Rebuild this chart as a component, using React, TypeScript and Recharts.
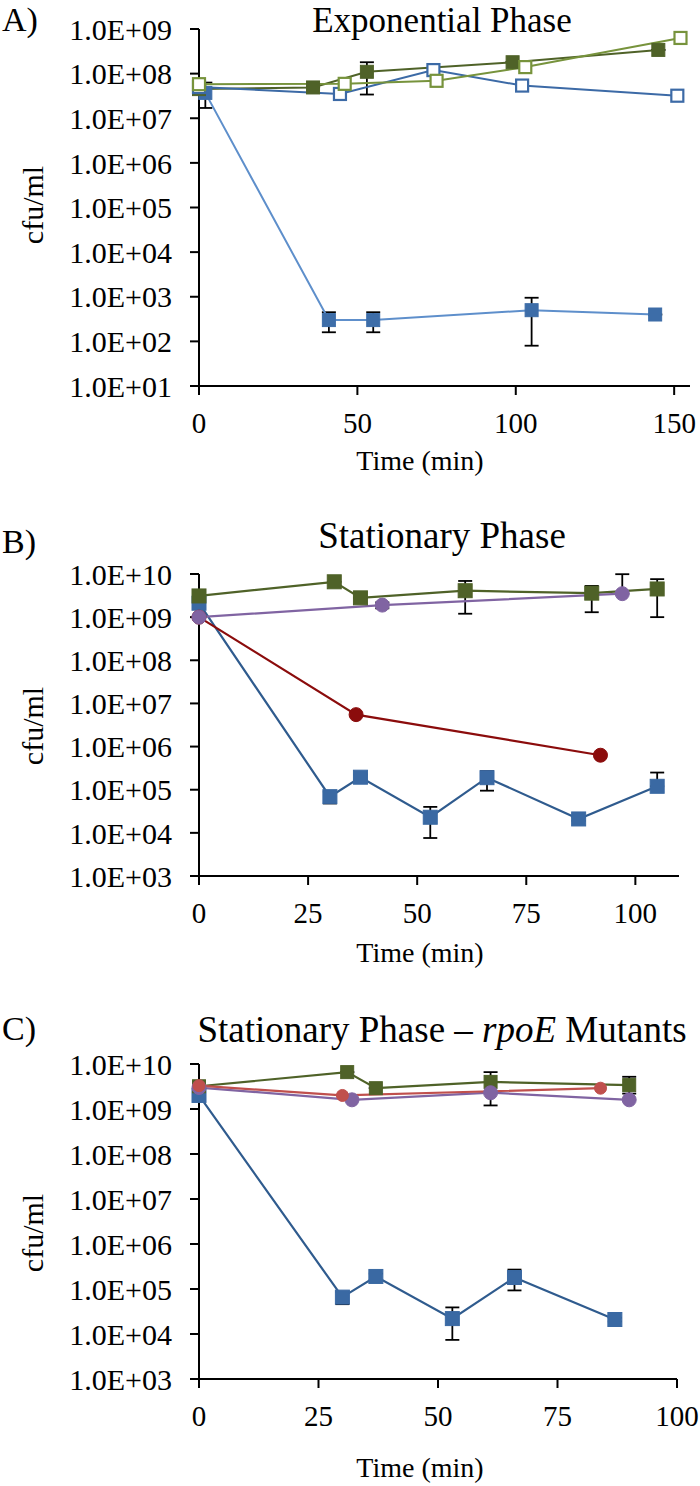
import React from 'react';
import { LineChart, Line, XAxis, YAxis, ErrorBar } from 'recharts';

const FONT = '"Liberation Serif", "Times New Roman", Times, serif';

// ---------- Panel A: Exponential Phase ----------
const aYTicks = [1e1, 1e2, 1e3, 1e4, 1e5, 1e6, 1e7, 1e8, 1e9];
const aXTicks = [0, 50, 100, 150];

const aTimeBlueFilled = [2, 41, 55, 105, 144];
const aCfuBlueFilled = [3.7e7, 3.0e2, 3.0e2, 5.0e2, 4.0e2];
const aErrBlueFilled = [[2.0e7, 2.6e7], [1.4e2, 1.5e2], [1.4e2, 1.5e2], [4.2e2, 4.5e2], [0, 0]];

const aTimeGreenFilled = [0, 36, 53, 99, 145];
const aCfuGreenFilled = [4.5e7, 4.9e7, 1.1e8, 1.8e8, 3.4e8];
const aErrGreenFilled = [[0, 0], [0, 0], [7.6e7, 7.0e7], [0, 0], [0, 0]];

const aTimeBlueOpen = [0, 44.5, 74, 102, 151];
const aCfuBlueOpen = [5.0e7, 3.5e7, 1.2e8, 5.4e7, 3.2e7];

const aTimeGreenOpen = [0, 46, 75, 103, 152];
const aCfuGreenOpen = [5.8e7, 5.9e7, 6.9e7, 1.4e8, 6.3e8];

// ---------- Panel B: Stationary Phase ----------
const bYTicks = [1e3, 1e4, 1e5, 1e6, 1e7, 1e8, 1e9, 1e10];
const bXTicks = [0, 25, 50, 75, 100];

const bTimeBlue = [0, 30, 37, 53, 66, 87, 105];
const bCfuBlue = [2.1e9, 6.9e4, 1.95e5, 2.3e4, 1.9e5, 2.1e4, 1.2e5];
const bErrBlue = [[0, 0], [2.1e4, 2.1e4], [3.0e4, 3.0e4], [1.54e4, 1.7e4], [9.5e4, 8.0e4], [2.0e3, 2.0e3], [0, 1.3e5]];

const bTimeRed = [0, 36, 92];
const bCfuRed = [1.0e9, 5.5e6, 6.3e5];

const bTimePurple = [0, 42, 97];
const bCfuPurple = [1.0e9, 1.9e9, 3.5e9];
const bErrPurple = [[0, 0], [3.0e8, 3.0e8], [0, 6.4e9]];

const bTimeGreen = [0, 31, 37, 61, 90, 105];
const bCfuGreen = [3.1e9, 6.6e9, 2.8e9, 4.1e9, 3.6e9, 4.5e9];
const bErrGreen = [[0, 0], [0, 0], [0, 0], [2.9e9, 2.8e9], [2.3e9, 1.7e9], [3.5e9, 3.1e9]];

// ---------- Panel C: Stationary Phase – rpoE Mutants ----------
const cYTicks = [1e3, 1e4, 1e5, 1e6, 1e7, 1e8, 1e9, 1e10];
const cXTicks = [0, 25, 50, 75, 100];

const cTimeBlue = [0, 30, 37, 53, 66, 87];
const cCfuBlue = [2.0e9, 6.6e4, 1.9e5, 2.2e4, 1.8e5, 2.1e4];
const cErrBlue = [[0, 0], [2.0e4, 2.0e4], [3.0e4, 3.0e4], [1.46e4, 1.7e4], [8.7e4, 9.0e4], [2.0e3, 2.0e3]];

const cTimeGreen = [0, 31, 37, 61, 90];
const cCfuGreen = [3.2e9, 6.6e9, 2.9e9, 4.0e9, 3.4e9];
const cErrGreen = [[0, 0], [0, 0], [0, 0], [2.8e9, 2.6e9], [1.2e9, 1.8e9]];

const cTimeRed = [0, 30, 84];
const cCfuRed = [3.3e9, 2.0e9, 2.9e9];

const cTimePurple = [0, 32, 61, 90];
const cCfuPurple = [3.0e9, 1.6e9, 2.3e9, 1.6e9];

// ---------- helpers ----------
type Row = { t: number; v: number; err: number[] };
const rows = (t: number[], v: number[], e?: number[][]): Row[] =>
  t.map((x, i) => ({ t: x, v: v[i], err: e ? e[i] : [0, 0] }));

const fmtE = (v: number) => {
  const e = Math.round(Math.log10(v));
  return `1.0E+${e < 10 ? '0' + e : e}`;
};

const squareDot = (size: number, fill: string, stroke: string, sw: number) => (p: any) => {
  const { cx, cy, index } = p;
  if (cx == null || cy == null || isNaN(cx) || isNaN(cy)) return <g key={`n-${index}`} />;
  return (
    <rect
      key={`sq-${index}`}
      x={cx - size / 2}
      y={cy - size / 2}
      width={size}
      height={size}
      fill={fill}
      stroke={stroke}
      strokeWidth={sw}
    />
  );
};

const tickStyle = { fill: '#000', fontSize: 30, fontFamily: FONT };
const xTickStyle = { fill: '#000', fontSize: 29, fontFamily: FONT };
const axisLine = { stroke: '#000', strokeWidth: 2 };

const errBar = <ErrorBar dataKey="err" direction="y" width={7} stroke="#000" strokeWidth={1.8} />;

// colours
const A_BLUE_LINE = '#5E8FCB';
const A_BLUE_MARK = '#3D6DA8';
const A_BLUE_OPEN = '#3C6AA6';
const DK_GREEN = '#4F6228';
const LT_GREEN = '#77933C';
const B_BLUE = '#2F5B8E';
const B_BLUE_MARK = '#3A69A3';
const DK_RED = '#8B0C0C';
const PURPLE = '#8064A2';
const RED = '#C0504D';

function PanelA() {
  return (
    <LineChart width={700} height={480} margin={{ top: 29, right: 10, bottom: 34, left: 0 }}>
      <XAxis
        type="number"
        dataKey="t"
        domain={[0, 155]}
        ticks={aXTicks}
        interval={0}
        height={60}
        tickSize={9}
        tickMargin={17}
        axisLine={axisLine}
        tickLine={axisLine}
        tick={xTickStyle}
      />
      <YAxis
        type="number"
        scale="log"
        domain={[1e1, 1e9]}
        ticks={aYTicks}
        interval={0}
        width={199}
        tickSize={9}
        tickMargin={18}
        tickFormatter={fmtE}
        axisLine={axisLine}
        tickLine={axisLine}
        tick={tickStyle}
      />
      <Line
        data={rows(aTimeBlueFilled, aCfuBlueFilled, aErrBlueFilled)}
        dataKey="v"
        type="linear"
        stroke={A_BLUE_LINE}
        strokeWidth={2}
        dot={squareDot(13, A_BLUE_MARK, A_BLUE_MARK, 1)}
        activeDot={false}
        isAnimationActive={false}
      >
        {errBar}
      </Line>
      <Line
        data={rows(aTimeGreenFilled, aCfuGreenFilled, aErrGreenFilled)}
        dataKey="v"
        type="linear"
        stroke={DK_GREEN}
        strokeWidth={2}
        dot={squareDot(13, DK_GREEN, DK_GREEN, 1)}
        activeDot={false}
        isAnimationActive={false}
      >
        {errBar}
      </Line>
      <Line
        data={rows(aTimeBlueOpen, aCfuBlueOpen)}
        dataKey="v"
        type="linear"
        stroke={A_BLUE_OPEN}
        strokeWidth={2}
        dot={squareDot(12, '#fff', A_BLUE_OPEN, 2.2)}
        activeDot={false}
        isAnimationActive={false}
      />
      <Line
        data={rows(aTimeGreenOpen, aCfuGreenOpen)}
        dataKey="v"
        type="linear"
        stroke={LT_GREEN}
        strokeWidth={2}
        dot={squareDot(12, '#fff', LT_GREEN, 2.2)}
        activeDot={false}
        isAnimationActive={false}
      />
    </LineChart>
  );
}

function PanelB() {
  return (
    <LineChart width={700} height={480} margin={{ top: 74, right: 21, bottom: 44, left: 0 }}>
      <XAxis
        type="number"
        dataKey="t"
        domain={[0, 110]}
        ticks={bXTicks}
        interval={0}
        height={60}
        tickSize={9}
        tickMargin={17}
        axisLine={axisLine}
        tickLine={axisLine}
        tick={xTickStyle}
      />
      <YAxis
        type="number"
        scale="log"
        domain={[1e3, 1e10]}
        ticks={bYTicks}
        interval={0}
        width={199}
        tickSize={9}
        tickMargin={18}
        tickFormatter={fmtE}
        axisLine={axisLine}
        tickLine={axisLine}
        tick={tickStyle}
      />
      <Line
        data={rows(bTimeBlue, bCfuBlue, bErrBlue)}
        dataKey="v"
        type="linear"
        stroke={B_BLUE}
        strokeWidth={2.2}
        dot={squareDot(14, B_BLUE_MARK, B_BLUE_MARK, 1)}
        activeDot={false}
        isAnimationActive={false}
      >
        {errBar}
      </Line>
      <Line
        data={rows(bTimeGreen, bCfuGreen, bErrGreen)}
        dataKey="v"
        type="linear"
        stroke={DK_GREEN}
        strokeWidth={2.2}
        dot={squareDot(14, DK_GREEN, DK_GREEN, 1)}
        activeDot={false}
        isAnimationActive={false}
      >
        {errBar}
      </Line>
      <Line
        data={rows(bTimeRed, bCfuRed)}
        dataKey="v"
        type="linear"
        stroke={DK_RED}
        strokeWidth={2.2}
        dot={{ r: 7, fill: DK_RED, stroke: DK_RED, strokeWidth: 1 }}
        activeDot={false}
        isAnimationActive={false}
      />
      <Line
        data={rows(bTimePurple, bCfuPurple, bErrPurple)}
        dataKey="v"
        type="linear"
        stroke={PURPLE}
        strokeWidth={2.2}
        dot={{ r: 7, fill: PURPLE, stroke: PURPLE, strokeWidth: 1 }}
        activeDot={false}
        isAnimationActive={false}
      >
        {errBar}
      </Line>
    </LineChart>
  );
}

function PanelC() {
  return (
    <LineChart width={700} height={496} margin={{ top: 74, right: 23, bottom: 47, left: 0 }}>
      <XAxis
        type="number"
        dataKey="t"
        domain={[0, 100]}
        ticks={cXTicks}
        interval={0}
        height={60}
        tickSize={9}
        tickMargin={17}
        axisLine={axisLine}
        tickLine={axisLine}
        tick={xTickStyle}
      />
      <YAxis
        type="number"
        scale="log"
        domain={[1e3, 1e10]}
        ticks={cYTicks}
        interval={0}
        width={199}
        tickSize={9}
        tickMargin={18}
        tickFormatter={fmtE}
        axisLine={axisLine}
        tickLine={axisLine}
        tick={tickStyle}
      />
      <Line
        data={rows(cTimeBlue, cCfuBlue, cErrBlue)}
        dataKey="v"
        type="linear"
        stroke={B_BLUE}
        strokeWidth={2.2}
        dot={squareDot(14, B_BLUE_MARK, B_BLUE_MARK, 1)}
        activeDot={false}
        isAnimationActive={false}
      >
        {errBar}
      </Line>
      <Line
        data={rows(cTimeGreen, cCfuGreen, cErrGreen)}
        dataKey="v"
        type="linear"
        stroke={DK_GREEN}
        strokeWidth={2.2}
        dot={squareDot(13, DK_GREEN, DK_GREEN, 1)}
        activeDot={false}
        isAnimationActive={false}
      >
        {errBar}
      </Line>
      <Line
        data={rows(cTimePurple, cCfuPurple)}
        dataKey="v"
        type="linear"
        stroke={PURPLE}
        strokeWidth={2.2}
        dot={{ r: 7, fill: PURPLE, stroke: PURPLE, strokeWidth: 1 }}
        activeDot={false}
        isAnimationActive={false}
      />
      <Line
        data={rows(cTimeRed, cCfuRed)}
        dataKey="v"
        type="linear"
        stroke={RED}
        strokeWidth={2.2}
        dot={{ r: 6, fill: RED, stroke: RED, strokeWidth: 1 }}
        activeDot={false}
        isAnimationActive={false}
      />
    </LineChart>
  );
}

export default function App() {
  const titleStyle = { fontFamily: FONT, fontSize: 37, fill: '#000' };
  const titleStyleA = { fontFamily: FONT, fontSize: 35, fill: '#000' };
  const letterStyle = { fontFamily: FONT, fontSize: 34, fill: '#000' };
  const axTitle = { fontFamily: FONT, fontSize: 28, fill: '#000' };
  const yTitle = { fontFamily: FONT, fontSize: 30, fill: '#000' };
  return (
    <div style={{ position: 'absolute', left: 0, top: 0, width: 700, height: 1486, background: '#fff', overflow: 'hidden' }}>
      <div style={{ position: 'absolute', left: 0, top: 0 }}>
        <PanelA />
      </div>
      <div style={{ position: 'absolute', left: 0, top: 500 }}>
        <PanelB />
      </div>
      <div style={{ position: 'absolute', left: 0, top: 990 }}>
        <PanelC />
      </div>
      <svg
        width={700}
        height={1486}
        style={{ position: 'absolute', left: 0, top: 0, pointerEvents: 'none' }}
      >
        {/* Panel A */}
        <text x={2} y={31} style={letterStyle}>A)</text>
        <text x={442} y={32} textAnchor="middle" style={titleStyleA}>Exponential Phase</text>
        <text x={420} y={470} textAnchor="middle" style={axTitle}>Time (min)</text>
        <text transform="translate(43,205) rotate(-90)" textAnchor="middle" style={yTitle}>cfu/ml</text>

        {/* Panel B */}
        <text x={2} y={553} style={letterStyle}>B)</text>
        <text x={442} y={548} textAnchor="middle" style={titleStyle}>Stationary Phase</text>
        <text x={420} y={962} textAnchor="middle" style={axTitle}>Time (min)</text>
        <text transform="translate(43,726) rotate(-90)" textAnchor="middle" style={yTitle}>cfu/ml</text>

        {/* Panel C */}
        <text x={2} y={1040} style={letterStyle}>C)</text>
        <text x={442} y={1042} textAnchor="middle" style={titleStyle}>
          Stationary Phase – <tspan fontStyle="italic">rpoE</tspan> Mutants
        </text>
        <text x={420} y={1477} textAnchor="middle" style={axTitle}>Time (min)</text>
        <text transform="translate(43,1233) rotate(-90)" textAnchor="middle" style={yTitle}>cfu/ml</text>
      </svg>
    </div>
  );
}
